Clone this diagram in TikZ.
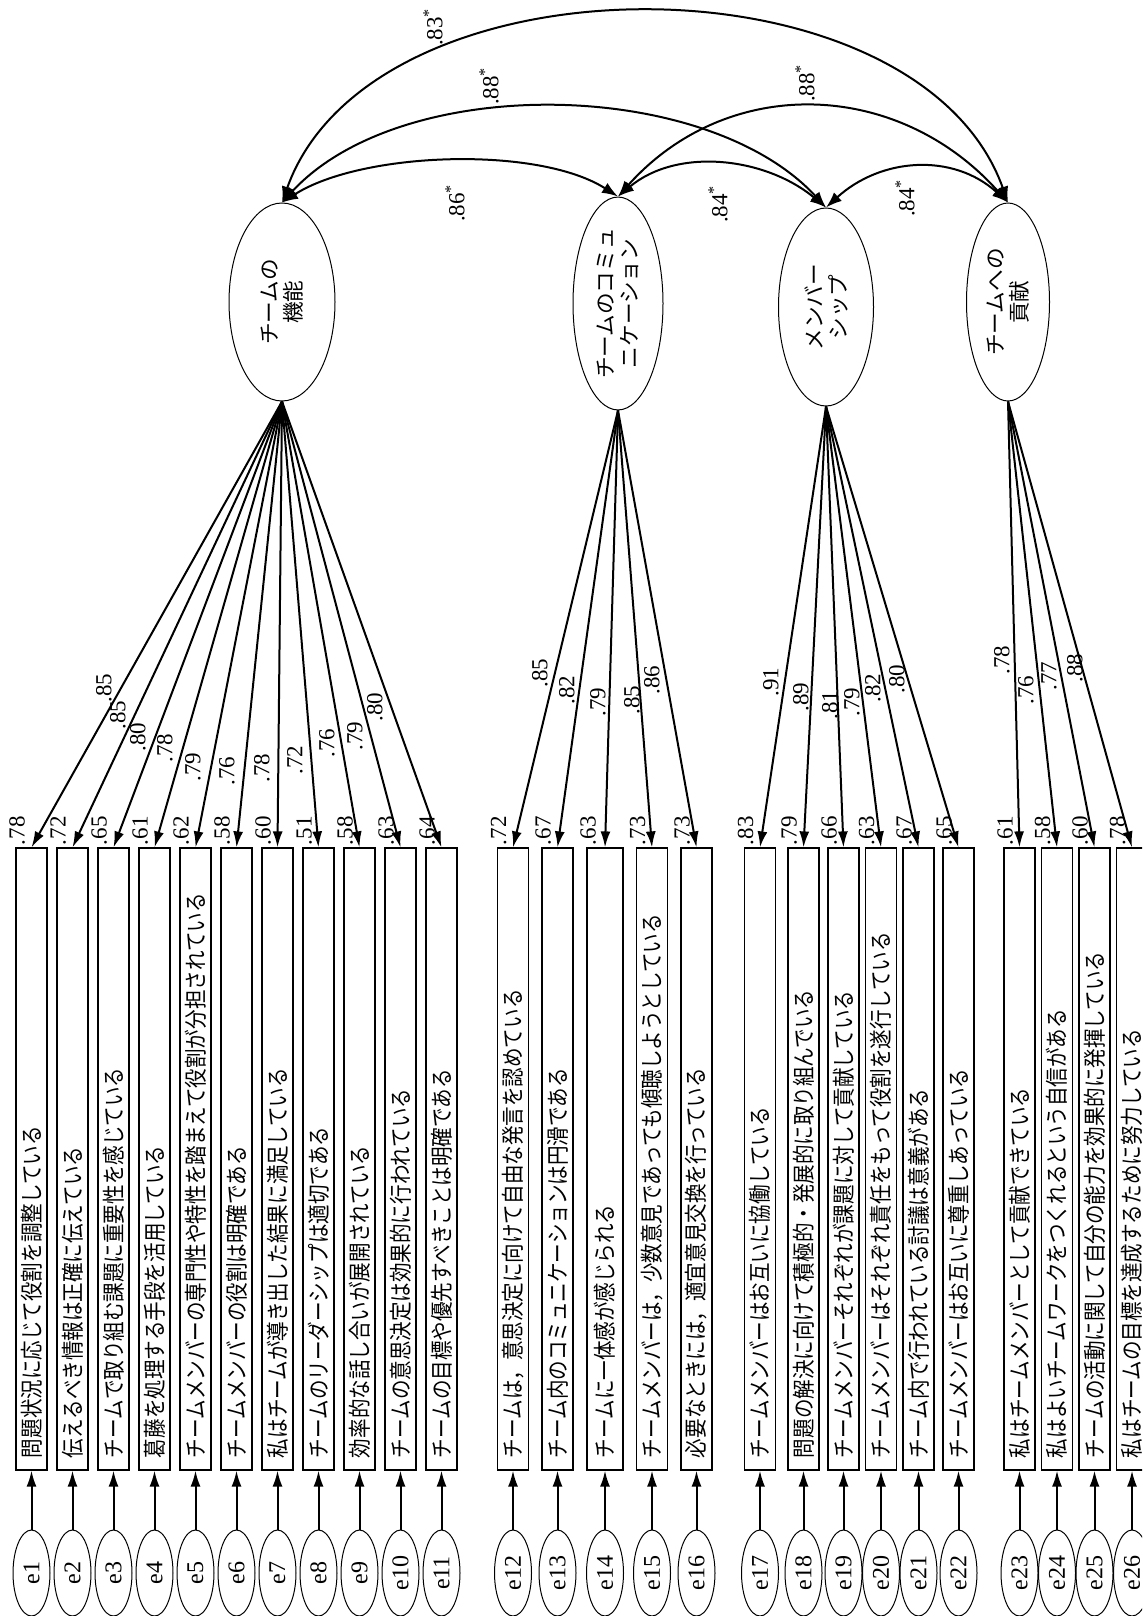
\documentclass[tikz,border=0pt]{standalone}
\usepackage{fontspec}
\setmainfont{Liberation Serif}
\newfontfamily\jp{Noto Sans CJK JP}[FakeStretch=0.85]
\newfontfamily\jpn{Noto Sans CJK JP}
\usetikzlibrary{shapes.geometric,arrows.meta}
\begin{document}
\begin{tikzpicture}[x=0.5pt,y=-0.5pt,
  lat/.style={ellipse, draw, line width=0.5pt, rotate=90, inner sep=0pt, align=center,
    font=\jpn\fontsize{10.8pt}{12pt}\selectfont},
  itembox/.style={rectangle, draw, line width=0.6pt, rotate=90, minimum height=#1,
    text width=299pt, align=left, inner xsep=6pt, inner ysep=0pt,
    font=\jp\fontsize{11.5pt}{13pt}\selectfont},
  err/.style={ellipse, draw, line width=0.5pt, rotate=90, minimum width=43pt,
    minimum height=18.5pt, inner sep=0pt, font=\fontsize{12pt}{14pt}\selectfont},
  num/.style={rotate=90, inner sep=0pt, font=\fontsize{11.5pt}{13pt}\selectfont},
  load/.style={line width=1pt, -{Latex[length=8pt,width=5pt]}},
  cov/.style={line width=1pt, {Latex[length=8pt,width=5.8pt]}-{Latex[length=8pt,width=5.8pt]}}
]
\useasboundingbox (0,0) rectangle (1142,1616);
\clip (0,0) rectangle (1142,1616);

% latent factors
\node[lat, minimum width=99pt, minimum height=53pt] (L1) at (282,302) {チームの\\機能};
\node[lat, minimum width=102pt, minimum height=45pt] (L2) at (618,303.5) {チームのコミュ\\ニケーション};
\node[lat, minimum width=99pt, minimum height=47.5pt] (L3) at (826,307) {メンバー\\シップ};
\node[lat, minimum width=99pt, minimum height=41.5pt] (L4) at (1008,302) {チームへの\\貢献};

% covariances
\draw[cov] (L1.east) .. controls +(80,-51) and +(-80,-51) .. (L2.east);
\draw[cov] (L1.east) .. controls +(120,-130) and +(-120,-130) .. (L3.east);
\draw[cov] (L1.east) .. controls +(90,-253) and +(-90,-253) .. (L4.east);
\draw[cov] (L2.east) .. controls +(110,-123) and +(-110,-123) .. (L4.east);
\draw[cov] (L2.east) .. controls +(60,-50) and +(-60,-50) .. (L3.east);
\draw[cov] (L3.east) .. controls +(55,-50) and +(-55,-50) .. (L4.east);

\node[num] (c14) at (433,27) {.83\textsuperscript{*}};
\node[num] (c13) at (489,86) {.88\textsuperscript{*}};
\node[num] (c12) at (455,203) {.86\textsuperscript{*}};
\node[num] (c24) at (805,83) {.88\textsuperscript{*}};
\node[num] (c23) at (718,204) {.84\textsuperscript{*}};
\node[num] (c34) at (905,198) {.84\textsuperscript{*}};

% items, error terms
\foreach \n/\cx/\h/\txt in {
  1/31.5/15.5pt/問題状況に応じて役割を調整している,
  2/72.5/15.5pt/伝えるべき情報は正確に伝えている,
  3/113.5/15.5pt/チームで取り組む課題に重要性を感じている,
  4/154.5/15.5pt/葛藤を処理する手段を活用している,
  5/195.5/15.5pt/チームメンバーの専門性や特性を踏まえて役割が分担されている,
  6/236.5/15.5pt/チームメンバーの役割は明確である,
  7/277.5/15.5pt/私はチームが導き出した結果に満足している,
  8/318.5/15.5pt/チームのリーダーシップは適切である,
  9/359.5/15.5pt/効率的な話し合いが展開されている,
  10/400.5/15.5pt/チームの意思決定は効果的に行われている,
  11/441.5/15.5pt/チームの目標や優先すべきことは明確である,
  12/513/15.5pt/チームは，意思決定に向けて自由な発言を認めている,
  13/557.5/15.5pt/チーム内のコミュニケーションは円滑である,
  14/605/18pt/チームに一体感が感じられる,
  15/652/15.5pt/チームメンバーは，少数意見であっても傾聴しようとしている,
  16/696.5/15.5pt/必要なときには，適宜意見交換を行っている,
  17/760/15.5pt/チームメンバーはお互いに協働している,
  18/803.5/15.5pt/問題の解決に向けて積極的・発展的に取り組んでいる,
  19/843.5/15.5pt/チームメンバーそれぞれが課題に対して貢献している,
  20/881/15.5pt/チームメンバーはそれぞれ責任をもって役割を遂行している,
  21/918.5/15.5pt/チーム内で行われている討議は意義がある,
  22/958.5/15.5pt/チームメンバーはお互いに尊重しあっている,
  23/1019.5/15.5pt/私はチームメンバーとして貢献できている,
  24/1057/15.5pt/私はよいチームワークをつくれるという自信がある,
  25/1094.5/15.5pt/チームの活動に関して自分の能力を効果的に発揮している,
  26/1132/15.5pt/私はチームの目標を達成するために努力している}
{
  \node[itembox=\h] (b\n) at (\cx,1159) {\txt};
  \node[err] (e\n) at (\cx,1573) {e\n};
  \draw[load] (e\n.east) -- (b\n.west);
}

% loadings and squared multiple correlations
\foreach \n/\L/\lx/\ly/\lv/\rv in {
  1/L1/104/688/.85/.78, 2/L1/118/715/.85/.72, 3/L1/138/737/.80/.65,
  4/L1/165/748/.78/.61, 5/L1/193/767/.79/.62, 6/L1/227/771/.76/.58,
  7/L1/262/768/.78/.60, 8/L1/295/760/.72/.51, 9/L1/327/743/.76/.58,
  10/L1/355/736/.79/.63, 11/L1/375/707/.80/.64,
  12/L2/540/673/.85/.72, 13/L2/567/690/.82/.67, 14/L2/598/702/.79/.63,
  15/L2/632/700/.85/.73, 16/L2/652/680/.86/.73,
  17/L3/771/682/.91/.83, 18/L3/801/697/.89/.79, 19/L3/830/705/.81/.66,
  20/L3/852/702/.79/.63, 21/L3/873/688/.82/.67, 22/L3/897/679/.80/.65,
  23/L4/1002/660/.78/.61, 24/L4/1026/690/.76/.58, 25/L4/1049/676/.77/.60,
  26/L4/1075/668/.88/.78}
{
  \draw[load] (\L.west) -- (b\n.east);
  \node[num] (l\n) at (\lx,\ly) {\lv};
  \node[num, anchor=south west] (r\n) at ([xshift=5pt,yshift=1pt]b\n.north east) {\rv};
}
\end{tikzpicture}
\end{document}
